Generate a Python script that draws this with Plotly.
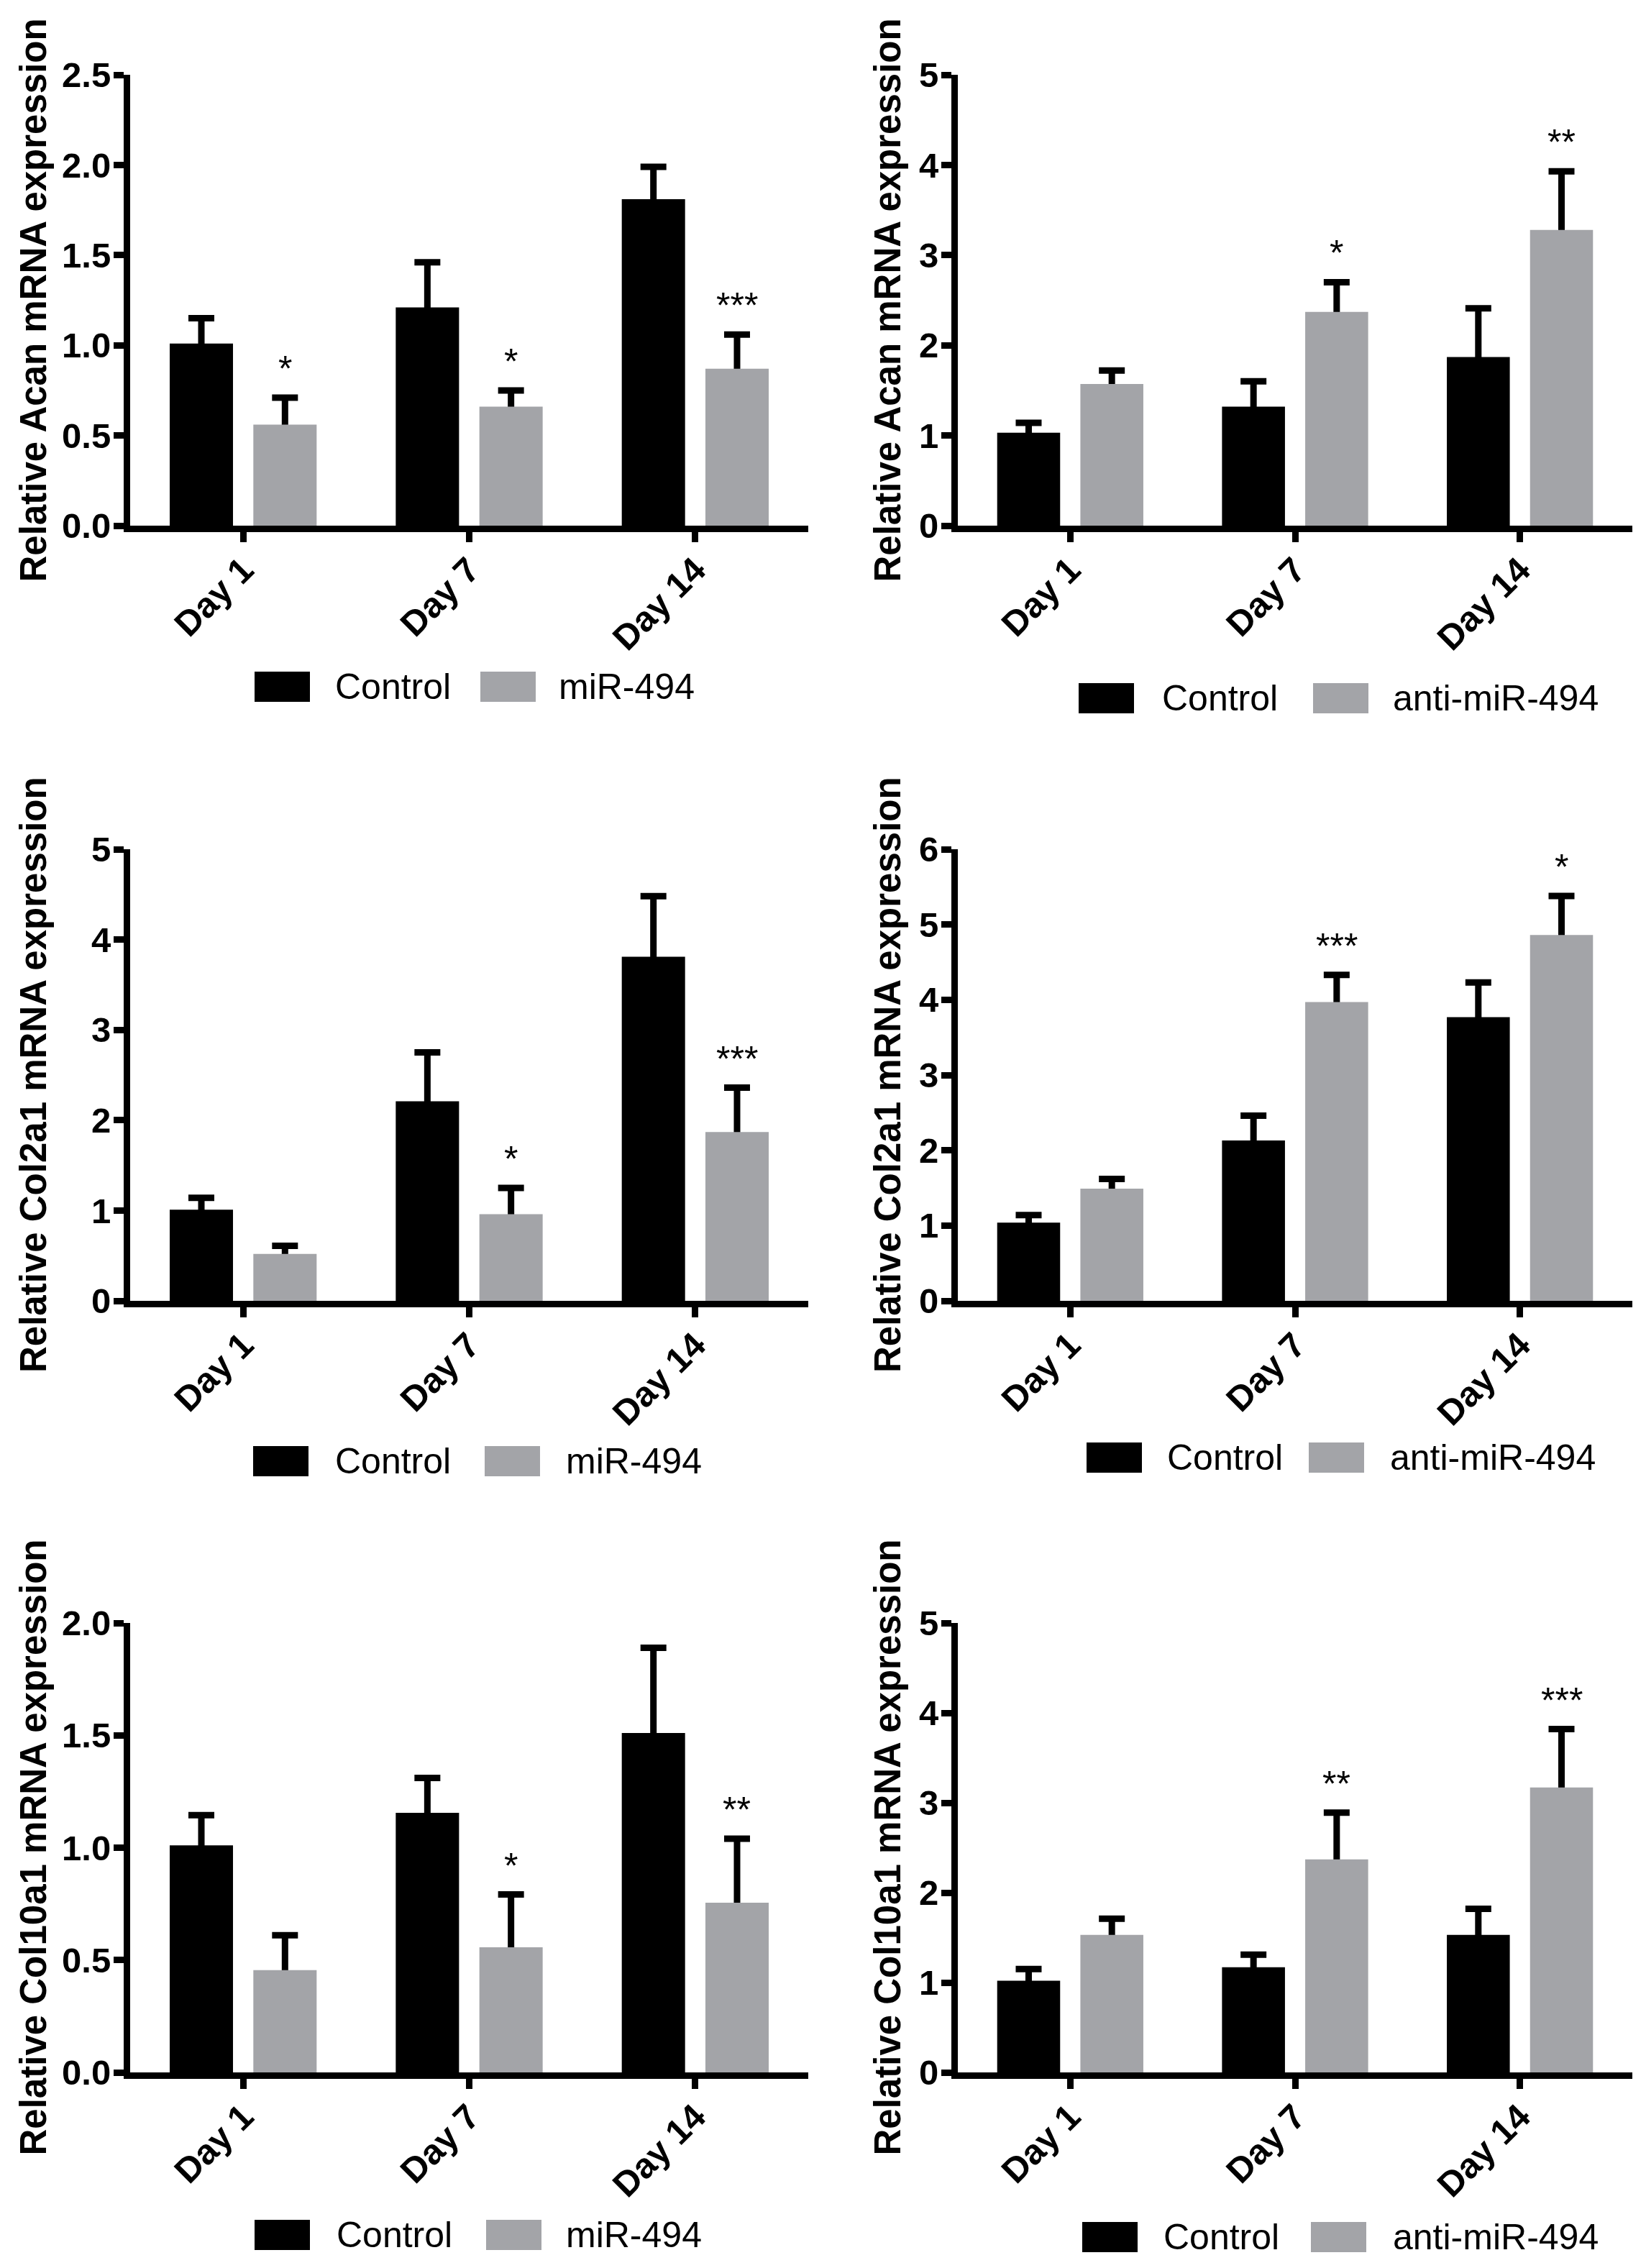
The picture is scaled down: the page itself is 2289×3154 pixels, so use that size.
import plotly.graph_objects as go
from plotly.subplots import make_subplots

W, H = 2289, 3154
FONT = "Liberation Sans"
BLACK = "#000000"
GREY = "#a3a4a8"

days = ["Day 1", "Day 7", "Day 14"]

# Acan, miR-494 overexpression
acan_ctrl_a = [1.01, 1.21, 1.81]
acan_ctrl_a_err = [0.14, 0.25, 0.18]
acan_mir = [0.56, 0.66, 0.87]
acan_mir_err = [0.15, 0.09, 0.19]
acan_mir_sig = ["*", "*", "***"]

# Acan, anti-miR-494
acan_ctrl_b = [1.03, 1.32, 1.87]
acan_ctrl_b_err = [0.11, 0.28, 0.54]
acan_anti = [1.57, 2.37, 3.28]
acan_anti_err = [0.15, 0.33, 0.65]
acan_anti_sig = ["", "*", "**"]

# Col2a1, miR-494
col2_ctrl_a = [1.01, 2.21, 3.81]
col2_ctrl_a_err = [0.13, 0.54, 0.67]
col2_mir = [0.52, 0.96, 1.87]
col2_mir_err = [0.09, 0.29, 0.49]
col2_mir_sig = ["", "*", "***"]

# Col2a1, anti-miR-494
col2_ctrl_b = [1.04, 2.13, 3.77]
col2_ctrl_b_err = [0.10, 0.33, 0.46]
col2_anti = [1.49, 3.97, 4.86]
col2_anti_err = [0.13, 0.36, 0.52]
col2_anti_sig = ["", "***", "*"]

# Col10a1, miR-494
col10_ctrl_a = [1.01, 1.155, 1.51]
col10_ctrl_a_err = [0.135, 0.155, 0.38]
col10_mir = [0.455, 0.557, 0.755]
col10_mir_err = [0.155, 0.235, 0.285]
col10_mir_sig = ["", "*", "**"]

# Col10a1, anti-miR-494
col10_ctrl_b = [1.02, 1.17, 1.53]
col10_ctrl_b_err = [0.13, 0.14, 0.29]
col10_anti = [1.53, 2.37, 3.17]
col10_anti_err = [0.18, 0.52, 0.65]
col10_anti_sig = ["", "**", "***"]

panels = [
    # row, col, y title, ymax, dtick, fmt, ctrl, ctrl err, treated, treated err, treated name, stars
    (1, 1, "Relative Acan mRNA expression", 2.5, 0.5, ".1f",
     acan_ctrl_a, acan_ctrl_a_err, acan_mir, acan_mir_err, "miR-494", acan_mir_sig),
    (1, 2, "Relative Acan mRNA expression", 5, 1, "d",
     acan_ctrl_b, acan_ctrl_b_err, acan_anti, acan_anti_err, "anti-miR-494", acan_anti_sig),
    (2, 1, "Relative Col2a1 mRNA expression", 5, 1, "d",
     col2_ctrl_a, col2_ctrl_a_err, col2_mir, col2_mir_err, "miR-494", col2_mir_sig),
    (2, 2, "Relative Col2a1 mRNA expression", 6, 1, "d",
     col2_ctrl_b, col2_ctrl_b_err, col2_anti, col2_anti_err, "anti-miR-494", col2_anti_sig),
    (3, 1, "Relative Col10a1 mRNA expression", 2.0, 0.5, ".1f",
     col10_ctrl_a, col10_ctrl_a_err, col10_mir, col10_mir_err, "miR-494", col10_mir_sig),
    (3, 2, "Relative Col10a1 mRNA expression", 5, 1, "d",
     col10_ctrl_b, col10_ctrl_b_err, col10_anti, col10_anti_err, "anti-miR-494", col10_anti_sig),
]

# plot areas in pixels (left, right, top, bottom)
col_px = {1: (181, 1124), 2: (1332, 2270)}
row_px = {1: (104, 731), 2: (1181, 1809), 3: (2257, 2882)}
# centre of the rotated y title, pixels from the left
title_px = {1: 46, 2: 1234}
# legend rows: (swatch1 x0, text1 x, swatch2 x0, text2 x, centre y)
legend_px = {
    (1, 1): (354, 464, 668, 775, 955),
    (1, 2): (1500, 1614, 1826, 1935, 971),
    (2, 1): (352, 464, 674, 785, 2032),
    (2, 2): (1511, 1621, 1820, 1931, 2027),
    (3, 1): (354, 466, 676, 785, 3108),
    (3, 2): (1505, 1616, 1823, 1935, 3111),
}
SW_W, SW_H = 77, 42

BAR_W = 0.28
OFF_CTRL = -0.325
OFF_TRT = 0.045


def px_x(p):
    return p / W


def px_y(p):
    return 1 - p / H


fig = make_subplots(rows=3, cols=2)

annotations = []
shapes = []

for row, col, ytitle, ymax, dtick, fmt, ctrl, ctrl_err, trt, trt_err, trt_name, sig in panels:
    series = [(ctrl, ctrl_err, OFF_CTRL, BLACK), (trt, trt_err, OFF_TRT, GREY)]
    # error bars first, the bars drawn afterwards hide their lower half
    for vals, err, off, colr in series:
        fig.add_trace(go.Bar(
            x=days, y=vals, width=BAR_W, offset=off,
            marker=dict(color="rgba(0,0,0,0)", line=dict(width=0)),
            error_y=dict(type="data", array=err, symmetric=True,
                         color=BLACK, thickness=9, width=18),
            hoverinfo="skip", showlegend=False), row=row, col=col)
    for vals, err, off, colr in series:
        fig.add_trace(go.Bar(
            x=days, y=vals, width=BAR_W, offset=off,
            marker=dict(color=colr, line=dict(width=0)),
            showlegend=False), row=row, col=col)

    x0, x1 = col_px[col]
    y0, y1 = row_px[row]
    fig.update_xaxes(
        domain=[px_x(x0), px_x(x1)], type="category", range=[-0.5, 2.5],
        automargin=False,
        showline=True, linecolor=BLACK, linewidth=9, mirror=False,
        ticks="outside", ticklen=14, tickwidth=9, tickcolor=BLACK,
        ticklabelstandoff=-10,
        tickangle=-45, tickfont=dict(family=FONT, size=49, color=BLACK, weight="bold"),
        showgrid=False, zeroline=False, row=row, col=col)
    fig.update_yaxes(
        domain=[px_y(y1), px_y(y0)], range=[0, ymax], dtick=dtick, tick0=0,
        tickformat=fmt, automargin=False,
        showline=True, linecolor=BLACK, linewidth=9,
        ticks="outside", ticklen=14, tickwidth=9, tickcolor=BLACK,
        ticklabelstandoff=-6,
        tickfont=dict(family=FONT, size=49, color=BLACK, weight="bold"),
        showgrid=False, zeroline=False, row=row, col=col)

    # y title, same place in every panel of a column
    annotations.append(dict(
        x=px_x(title_px[col]), y=px_y((y0 + y1) / 2), xref="paper", yref="paper",
        text=ytitle, textangle=-90, showarrow=False,
        xanchor="center", yanchor="middle",
        font=dict(family=FONT, size=51, color=BLACK, weight="bold")))

    # significance stars above the treated bars
    idx = (row - 1) * 2 + col
    xref = "x" if idx == 1 else "x%d" % idx
    yref = "y" if idx == 1 else "y%d" % idx
    for i, s in enumerate(sig):
        if not s:
            continue
        annotations.append(dict(
            x=i + OFF_TRT + BAR_W / 2, y=trt[i] + trt_err[i], xref=xref, yref=yref,
            text=s, showarrow=False, yanchor="bottom", xanchor="center", yshift=10,
            font=dict(family=FONT, size=50, color=BLACK)))

    # legend
    s1, t1, s2, t2, cy = legend_px[(row, col)]
    for sx, tx, colr, name in [(s1, t1, BLACK, "Control"), (s2, t2, GREY, trt_name)]:
        shapes.append(dict(
            type="rect", xref="paper", yref="paper",
            x0=px_x(sx), x1=px_x(sx + SW_W),
            y0=px_y(cy + SW_H / 2), y1=px_y(cy - SW_H / 2),
            fillcolor=colr, line=dict(width=0)))
        annotations.append(dict(
            x=px_x(tx), y=px_y(cy), xref="paper", yref="paper",
            text=name, showarrow=False, xanchor="left", yanchor="middle",
            font=dict(family=FONT, size=50, color=BLACK)))

fig.update_layout(
    width=W, height=H,
    margin=dict(l=0, r=0, t=0, b=0, pad=0, autoexpand=False),
    barmode="overlay",
    plot_bgcolor="white", paper_bgcolor="white",
    font=dict(family=FONT, color=BLACK),
    showlegend=False,
    annotations=annotations,
    shapes=shapes,
)

# let the page be exactly the size of the figure
fig.write_html("out.html", config=dict(displayModeBar=False),
               post_script="document.body.style.margin='0px';"
                           "document.body.style.overflow='hidden';")
